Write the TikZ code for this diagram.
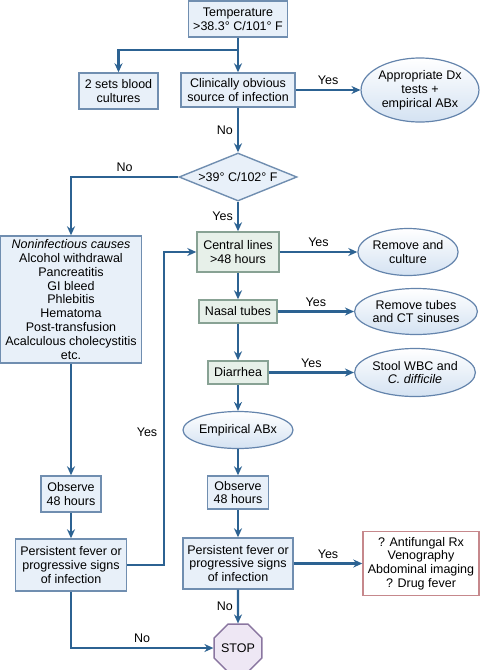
\documentclass[tikz,border=0pt]{standalone}
\usepackage{fontspec}
\setmainfont{Liberation Sans}
\usetikzlibrary{arrows.meta,shapes.geometric,positioning}
\definecolor{flowblue}{RGB}{44,98,146}
\definecolor{boxline}{RGB}{112,142,176}
\definecolor{boxfill}{RGB}{232,240,249}
\definecolor{greenline}{RGB}{136,162,148}
\definecolor{greenfill}{RGB}{231,240,233}
\definecolor{ellline}{RGB}{100,132,172}
\definecolor{ellfill}{RGB}{212,226,242}
\definecolor{redline}{RGB}{198,136,140}
\definecolor{stopline}{RGB}{138,118,160}
\definecolor{stopfill}{RGB}{238,231,244}
\tikzset{
  flow/.style={-{Stealth[length=9pt,width=8pt]}, line width=2.3pt, flowblue},
  link/.style={line width=2.3pt, flowblue},
  stepbox/.style={draw=boxline, fill=boxfill, line width=1.4pt, align=center, inner sep=0pt},
  checkbox/.style={draw=greenline, fill=greenfill, line width=1.4pt, align=center, inner sep=0pt},
  actionoval/.style={ellipse, draw=ellline, top color=white, bottom color=ellfill, line width=1.2pt, align=center, inner sep=0pt},
  decision/.style={diamond, aspect=2.45, draw=boxline, fill=boxfill, line width=1.4pt, inner sep=0pt},
  otherbox/.style={draw=redline, fill=white, line width=1.4pt, align=center, inner sep=0pt},
  stopsign/.style={regular polygon, regular polygon sides=8, draw=stopline, fill=stopfill, line width=1.4pt, inner sep=0pt, minimum size=44pt},
  lbl/.style={inner sep=4pt, text=black},
}
\begin{document}
\begin{tikzpicture}[x=1pt, y=-1pt, font=\fontsize{12.5}{13.8}\selectfont]
  \useasboundingbox (0,0) rectangle (480,670);

  % Top of the chart
  \node[stepbox, minimum width=99pt, minimum height=36pt] (temp) at (238,19) {Temperature\\>38.3° C/101° F};
  \node[stepbox, minimum width=79pt, minimum height=36pt] (cult) at (118.5,91) {2 sets blood\\cultures};
  \node[stepbox, minimum width=114pt, minimum height=34pt] (clin) at (238,90) {Clinically obvious\\source of infection};
  \node[actionoval, minimum width=116pt, minimum height=64pt] (appr) at (420,90) {Appropriate Dx\\tests +\\empirical ABx};
  \node[decision, minimum width=118pt, minimum height=48pt] (fever) at (238,177) {>39° C/102° F};

  % Left column
  \node[stepbox, minimum width=141pt, minimum height=127pt] (noninf) at (71,299.5)
    {\textit{Noninfectious causes}\\Alcohol withdrawal\\Pancreatitis\\GI bleed\\Phlebitis\\Hematoma\\Post-transfusion\\Acalculous cholecystitis\\etc.};
  \node[stepbox, minimum width=60pt, minimum height=36pt] (obsl) at (71,494) {Observe\\48 hours};
  \node[stepbox, minimum width=111pt, minimum height=52pt] (persl) at (71,565) {Persistent fever or\\progressive signs\\of infection};

  % Right column
  \node[checkbox, minimum width=82pt, minimum height=40pt] (central) at (238,252) {Central lines\\>48 hours};
  \node[actionoval, minimum width=93pt, minimum height=47pt] (remcult) at (408,252) {Remove and\\culture};
  \node[checkbox, minimum width=78pt, minimum height=23pt] (nasal) at (238,311.5) {Nasal tubes};
  \node[actionoval, minimum width=109pt, minimum height=46pt] (remtube) at (416,311.5) {Remove tubes\\and CT sinuses};
  \node[checkbox, minimum width=60pt, minimum height=23pt] (diarr) at (238,372.5) {Diarrhea};
  \node[actionoval, minimum width=106pt, minimum height=48pt] (stool) at (415,372.5) {Stool WBC and\\\textit{C. difficile}};
  \node[actionoval, minimum width=90pt, minimum height=37pt] (empir) at (238,430) {Empirical ABx};
  \node[stepbox, minimum width=61pt, minimum height=33pt] (obsr) at (238,492.5) {Observe\\48 hours};
  \node[stepbox, minimum width=110pt, minimum height=51pt] (persr) at (238,563.5) {Persistent fever or\\progressive signs\\of infection};
  \node[otherbox, minimum width=116pt, minimum height=64pt] (extra) at (421,563.5) {? Antifungal Rx\\Venography\\Abdominal imaging\\? Drug fever};
  \node[stopsign] (stop) at (238,648) {STOP};

  % Connectors
  \coordinate (split) at (238,50);
  \draw[link] (temp) -- (split);
  \draw[flow] (split) -| (cult);
  \draw[flow] (split) -- (clin);
  \draw[flow] (clin) -- node[lbl, above] {Yes} (appr);
  \draw[flow] (clin) -- node[lbl, left] {No} (fever);
  \draw[flow] (fever.west) -| node[lbl, above, pos=0.25] {No} (noninf);
  \draw[flow] (fever) -- node[lbl, left] {Yes} (central);
  \draw[flow] (central) -- node[lbl, above] {Yes} (remcult);
  \draw[flow] (central) -- (nasal);
  \draw[flow] (nasal) -- node[lbl, above] {Yes} (remtube);
  \draw[flow] (nasal) -- (diarr);
  \draw[flow] (diarr) -- node[lbl, above] {Yes} (stool);
  \draw[flow] (diarr) -- (empir);
  \draw[flow] (empir) -- (obsr);
  \draw[flow] (obsr) -- (persr);
  \draw[flow] (persr) -- node[lbl, above] {Yes} (extra);
  \draw[flow] (persr) -- node[lbl, left] {No} (stop);
  \draw[flow] (noninf) -- (obsl);
  \draw[flow] (obsl) -- (persl);
  \coordinate (loop) at (164,565);
  \draw[flow] (persl.east) -- (loop) |- (central.west);
  \node[lbl] (yesloop) at (147,432) {Yes};
  \draw[flow] (persl) |- node[lbl, above, pos=0.75] {No} (stop);
\end{tikzpicture}
\end{document}
